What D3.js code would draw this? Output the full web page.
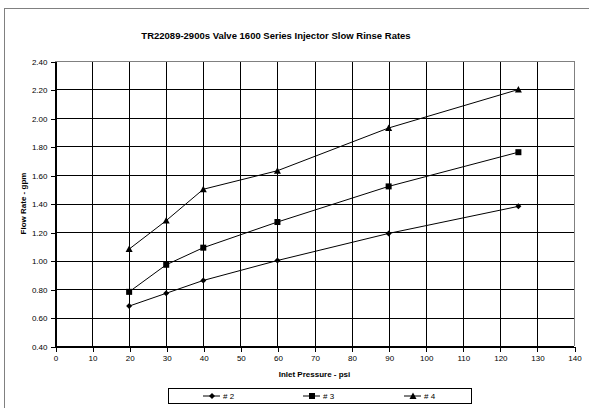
<!DOCTYPE html>
<html><head><meta charset="utf-8">
<script src="https://cdn.jsdelivr.net/npm/d3@7/dist/d3.min.js"></script>
<style>body{margin:0;background:#fff}svg{display:block;font-family:"Liberation Sans",Arial,sans-serif}</style>
</head><body>
<svg id="c" width="589" height="408"></svg>
<script>
const pressures = [20, 30, 40, 60, 90, 125];
const series2 = [0.68, 0.77, 0.86, 1.00, 1.19, 1.38];
const series3 = [0.78, 0.97, 1.09, 1.27, 1.52, 1.76];
const series4 = [1.08, 1.28, 1.50, 1.63, 1.93, 2.20];
const seriesNames = ["# 2", "# 3", "# 4"];
const markerTypes = ["diamond", "square", "triangle"];
const xTicks = d3.range(0, 141, 10);
const yTicks = d3.range(0.4, 2.401, 0.2);
const title = "TR22089-2900s Valve 1600 Series Injector Slow Rinse Rates";
const xTitle = "Inlet Pressure - psi";
const yTitle = "Flow Rate - gpm";

const svg = d3.select("#c");
const m = {l: 55, r: 574, t: 61, b: 346};
const x = d3.scaleLinear().domain([0, 140]).range([m.l, m.r]);
const y = d3.scaleLinear().domain([0.4, 2.4]).range([m.b, m.t]);

// outer frame
svg.append("rect").attr("x", 4.5).attr("y", 8.5).attr("width", 600).attr("height", 420)
  .attr("fill", "#fff").attr("stroke", "#808080").attr("stroke-width", 1);

// gridlines
const g = svg.append("g").attr("shape-rendering", "crispEdges");
g.selectAll(".hg").data(yTicks).join("line")
  .attr("x1", m.l).attr("x2", m.r).attr("y1", d => Math.round(y(d)) + 0.5).attr("y2", d => Math.round(y(d)) + 0.5)
  .attr("stroke", "#000").attr("stroke-width", 1);
g.selectAll(".vg").data(xTicks).join("line")
  .attr("y1", m.t).attr("y2", m.b).attr("x1", d => Math.round(x(d)) + 0.5).attr("x2", d => Math.round(x(d)) + 0.5)
  .attr("stroke", "#000").attr("stroke-width", 1);
// plot border right side gray
g.append("line").attr("x1", Math.round(x(140)) + 0.5).attr("x2", Math.round(x(140)) + 0.5)
  .attr("y1", m.t).attr("y2", m.b).attr("stroke", "#808080");
g.append("line").attr("x1", m.l).attr("x2", m.r).attr("y1", Math.round(y(2.4)) + 0.5).attr("y2", Math.round(y(2.4)) + 0.5).attr("stroke", "#808080");

// axes
const xAxis = svg.append("g").attr("transform", `translate(0.5,${Math.round(y(0.4)) + 0.5})`)
  .call(d3.axisBottom(x).tickValues(xTicks).tickSize(5).tickSizeOuter(0).tickPadding(4).tickFormat(d3.format("d")));
const yAxis = svg.append("g").attr("transform", `translate(${Math.round(x(0)) + 0.5},0.5)`)
  .call(d3.axisLeft(y).tickValues(yTicks).tickSize(5).tickSizeOuter(0).tickPadding(3).tickFormat(d3.format(".2f")));
[xAxis, yAxis].forEach(a => {
  a.selectAll("path,line").attr("stroke", "#000").attr("shape-rendering", "crispEdges");
  a.selectAll("text").attr("font-size", 8).attr("fill", "#000").attr("font-family", "Liberation Sans, Arial, sans-serif");
});

// titles
svg.append("text").attr("x", 276).attr("y", 39).attr("text-anchor", "middle")
  .attr("font-size", 9.5).attr("font-weight", "bold").text(title);
svg.append("text").attr("x", (m.l + m.r) / 2).attr("y", 377).attr("text-anchor", "middle")
  .attr("font-size", 8).attr("font-weight", "bold").text(xTitle);
svg.append("text").attr("transform", `translate(26,${(m.t + m.b) / 2}) rotate(-90)`).attr("text-anchor", "middle")
  .attr("font-size", 8).attr("font-weight", "bold").text(yTitle);

// series
const data = [series2, series3, series4];
function marker(sel, type) {
  if (type === "diamond") sel.append("path").attr("d", "M0,-3L3,0L0,3L-3,0Z");
  else if (type === "square") sel.append("rect").attr("x", -3).attr("y", -3).attr("width", 6).attr("height", 6);
  else sel.append("path").attr("d", "M0,-3.5L3.5,3L-3.5,3Z");
  sel.selectAll("*").attr("fill", "#000");
}
const line = d3.line().x((d, i) => x(pressures[i])).y(d => y(d));
data.forEach((s, k) => {
  svg.append("path").datum(s).attr("d", line).attr("fill", "none").attr("stroke", "#000").attr("stroke-width", 1);
  s.forEach((v, i) => {
    const mg = svg.append("g").attr("transform", `translate(${x(pressures[i])},${y(v)})`);
    marker(mg, markerTypes[k]);
  });
});

// legend
const lg = svg.append("g");
lg.append("rect").attr("x", 168.5).attr("y", 388.5).attr("width", 303).attr("height", 15)
  .attr("fill", "#fff").attr("stroke", "#000").attr("stroke-width", 1);
const legendX = [203, 303, 404];
seriesNames.forEach((n, k) => {
  const lx = legendX[k];
  lg.append("line").attr("x1", lx).attr("x2", lx + 17).attr("y1", 396).attr("y2", 396).attr("stroke", "#000");
  const mg = lg.append("g").attr("transform", `translate(${lx + 9},396)`);
  marker(mg, markerTypes[k]);
  lg.append("text").attr("x", lx + 20).attr("y", 399).attr("font-size", 8).text(n);
});
</script>
</body></html>
